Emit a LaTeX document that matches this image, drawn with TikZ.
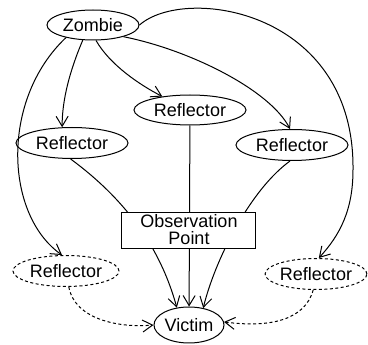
\documentclass[tikz,border=0pt]{standalone}
\usepackage{fontspec}
\setmainfont{Liberation Sans}
\usetikzlibrary{shapes.geometric,arrows.meta}
\begin{document}
\begin{tikzpicture}[x=1pt,y=-1pt,
  every node/.style={font=\fontsize{18}{17}\selectfont, inner sep=0pt},
  ell/.style={ellipse, draw, line width=1pt, minimum width=#1, minimum height=31pt},
  dell/.style={ellipse, draw, line width=1pt, dash pattern=on 3pt off 2.5pt, minimum width=#1, minimum height=31pt},
  arr/.style={line width=1pt, -{Straight Barb[length=10pt,width=12pt,line width=1pt]}},
  darr/.style={arr, dash pattern=on 3pt off 2.5pt}]
\useasboundingbox (0,0) rectangle (368,345);
\node[ell=92pt, minimum height=30pt] (z) at (93,25) {Zombie};
\node[ell=112pt, minimum height=30pt] (m) at (190,110) {Reflector};
\node[ell=112pt] (l) at (72,143) {Reflector};
\node[ell=112pt] (r) at (292,145) {Reflector};
\node[dell=106pt] (dl) at (66,271) {Reflector};
\node[dell=98pt] (dr) at (316,274) {Reflector};
\node[ell=70pt, minimum height=36pt] (v) at (189,325) {Victim};
% edges from zombie
\draw[arr] (z.236) .. controls (70,70) and (62,100) .. (l.122);
\draw[arr] (z.281) .. controls (110,65) and (140,85) .. (m.154);
\draw[arr] (z.339) .. controls (190,50) and (270,90) .. (r.97);
\draw[arr] (z.205) .. controls (0,100) and (5,215) .. (dl.104);
\draw[arr] (z.0) .. controls (185,-15) and (355,10) .. (353,170) .. controls (353,210) and (340,235) .. (dr.80);
% edges to victim
\draw[arr] (l.265) .. controls (140,210) and (165,265) .. (v.125);
\draw[arr] (m) -- (v);
\draw[arr] (r.263) .. controls (250,190) and (215,260) .. (v.50);
\draw[darr] (dl.280) .. controls (75,320) and (120,328) .. (v.180);
\draw[darr] (dr.260) .. controls (305,320) and (270,328) .. (v.5);
% observation point box on top
\node[draw, fill=white, line width=1pt, minimum width=134pt, minimum height=36pt, align=center, text depth=4pt] (o) at (189,231) {Observation\\Point};
\end{tikzpicture}
\end{document}
